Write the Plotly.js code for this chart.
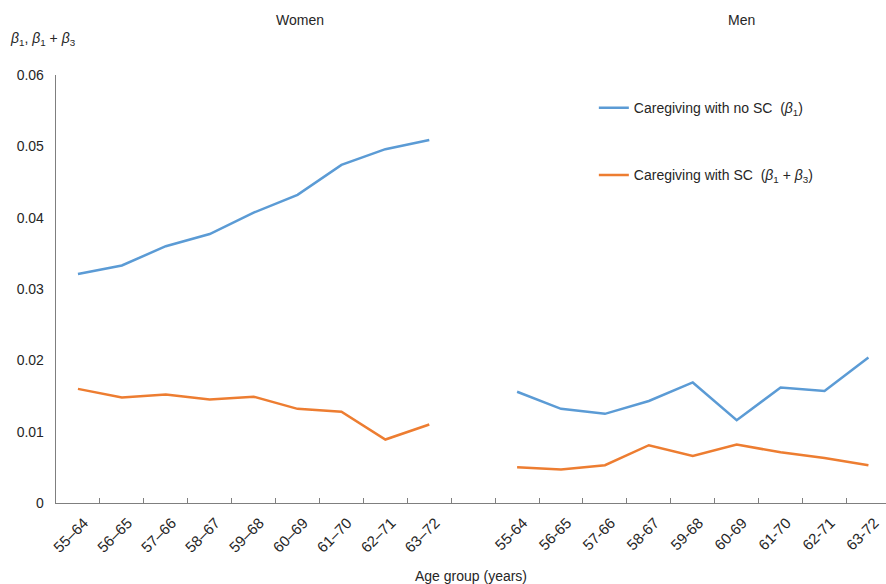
<!DOCTYPE html>
<html>
<head>
<meta charset="utf-8">
<script src="https://cdn.plot.ly/plotly-3.0.1.min.js"></script>
<style>html,body{margin:0;padding:0;background:#fff;}#chart{width:886px;height:584px;}</style>
</head>
<body>
<div id="chart"></div>
<script>
// Categories
const womenAges = ['55\u201364','56\u201365','57\u201366','58\u201367','59\u201368','60\u201369','61\u201370','62\u201371','63\u201372'];
const menAges = ['55-64','56-65','57-66','58-67','59-68','60-69','61-70','62-71','63-72'];
const gapLabel = ' ';
// Series values
const womenNoSC = [0.0321, 0.0333, 0.0360, 0.0377, 0.0407, 0.0432, 0.0474, 0.0496, 0.0509];
const womenSC   = [0.0160, 0.0148, 0.0152, 0.0145, 0.0149, 0.0132, 0.0128, 0.0089, 0.0110];
const menNoSC   = [0.0156, 0.0132, 0.0125, 0.0143, 0.0169, 0.0116, 0.0162, 0.0157, 0.0204];
const menSC     = [0.0050, 0.0047, 0.0053, 0.0081, 0.0066, 0.0082, 0.0071, 0.0063, 0.0053];
const seriesNames = ['Caregiving with no SC  (<i>\u03b2</i><sub>1</sub>)', 'Caregiving with SC  (<i>\u03b2</i><sub>1</sub> + <i>\u03b2</i><sub>3</sub>)'];
const yTicks = [0, 0.01, 0.02, 0.03, 0.04, 0.05, 0.06];
const yTickText = ['0', '0.01', '0.02', '0.03', '0.04', '0.05', '0.06'];

const cats = womenAges.concat([gapLabel], menAges);
const font = {family: 'Liberation Sans, Arial, sans-serif', color: '#262626'};

const traces = [
  {x: cats, y: womenNoSC.concat([null], menNoSC), name: seriesNames[0], legendgroup: 'a',
   type: 'scatter', mode: 'lines', connectgaps: false, line: {color: '#5B9BD5', width: 2.5}},
  {x: cats, y: womenSC.concat([null], menSC), name: seriesNames[1], legendgroup: 'b',
   type: 'scatter', mode: 'lines', connectgaps: false, line: {color: '#ED7D31', width: 2.5}}
];

const layout = {
  width: 886, height: 584,
  margin: {l: 56, r: 0, t: 75, b: 81},
  paper_bgcolor: '#fff', plot_bgcolor: '#fff',
  font: Object.assign({size: 14}, font),
  showlegend: true,
  legend: {x: 0.648, y: 0.96, xanchor: 'left', yanchor: 'top', bgcolor: 'rgba(0,0,0,0)',
           tracegroupgap: 46, font: Object.assign({size: 14}, font), itemwidth: 30},
  xaxis: {type: 'category', categoryorder: 'array', categoryarray: cats,
          range: [-0.5, 18.4], tickson: 'boundaries', ticks: 'inside', ticklen: 5,
          tickcolor: '#7f7f7f', showline: true, linecolor: '#7f7f7f', linewidth: 1.3,
          showgrid: false, zeroline: false, tickangle: -45, automargin: false,
          ticklabelshift: 6, ticklabelstandoff: 4,
          tickfont: Object.assign({size: 15}, font),
          title: {text: 'Age group (years)', font: Object.assign({size: 14}, font), standoff: 22}},
  yaxis: {range: [0, 0.06], tickvals: yTicks, ticktext: yTickText, showline: true,
          linecolor: '#7f7f7f', linewidth: 1.3, showgrid: false, zeroline: false, ticks: '',
          ticklabelstandoff: 8, tickfont: Object.assign({size: 14}, font)},
  annotations: [
    {text: '<i>\u03b2</i><sub>1</sub>, <i>\u03b2</i><sub>1</sub> + <i>\u03b2</i><sub>3</sub>', xref: 'paper', yref: 'paper',
     x: -0.058, y: 1.085, xanchor: 'left', yanchor: 'middle', showarrow: false, font: Object.assign({size: 14}, font)},
    {text: 'Women', xref: 'paper', yref: 'paper', x: 0.294, y: 1.128, xanchor: 'center', yanchor: 'middle',
     showarrow: false, font: Object.assign({size: 14}, font)},
    {text: 'Men', xref: 'paper', yref: 'paper', x: 0.826, y: 1.128, xanchor: 'center', yanchor: 'middle',
     showarrow: false, font: Object.assign({size: 14}, font)}
  ]
};

Plotly.newPlot('chart', traces, layout, {displayModeBar: false, staticPlot: true});
</script>
</body>
</html>
